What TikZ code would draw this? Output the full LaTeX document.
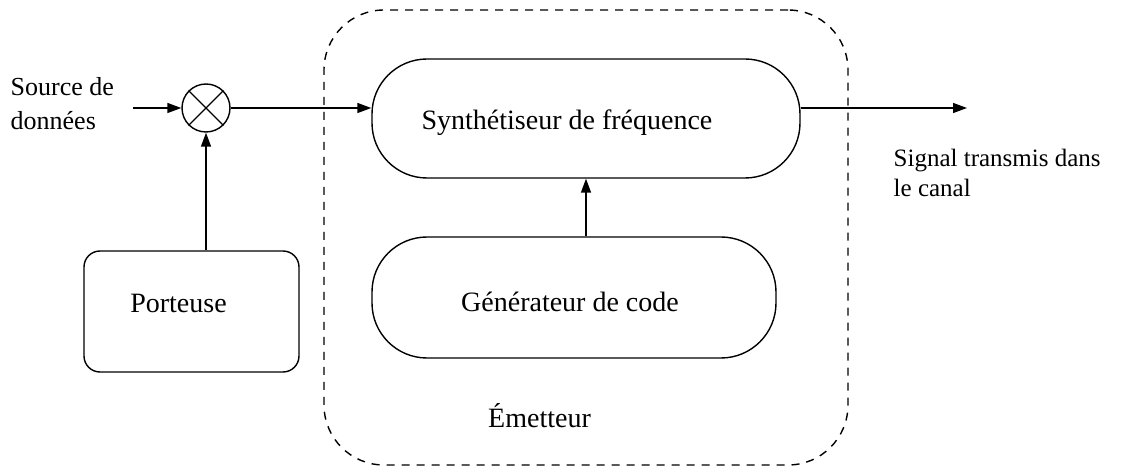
\documentclass[tikz,border=0pt]{standalone}
\usepackage{fontspec}
\setmainfont{Liberation Serif}
\usetikzlibrary{arrows.meta}

\begin{document}
\begin{tikzpicture}[x=1pt, y=-1pt,
  line width=1.4pt,
  arr/.style={-{Triangle[length=14pt,width=10pt]}},
  blockbox/.style={draw, rectangle, inner sep=0pt},
  lbl/.style={inner sep=0pt, font=\fontsize{28}{34}\selectfont},
  sidelbl/.style={inner sep=0pt, align=left, font=\fontsize{26}{34}\selectfont},
  enclosure/.style={draw, rectangle, dash pattern=on 8pt off 7pt, rounded corners=60pt, inner sep=0pt}]
  \useasboundingbox (0,0) rectangle (1125,470);

  % transmitter enclosure
  \node[enclosure, minimum width=524pt, minimum height=455pt] (tx) at (586,237.5) {};

  % blocks
  \node[blockbox, rounded corners=55pt, minimum width=428pt, minimum height=119pt] (synth) at (586,118.5) {};
  \node[blockbox, rounded corners=55pt, minimum width=404pt, minimum height=121pt] (gen) at (574,297.5) {};
  \node[blockbox, rounded corners=16pt, minimum width=215pt, minimum height=121pt] (port) at (191.5,311.5) {};

  % mixer
  \node[draw, circle, minimum size=48pt, inner sep=0pt] (mix) at (206,108) {};
  \draw (mix.45) -- (mix.225) (mix.135) -- (mix.-45);

  % block labels
  \node[lbl, anchor=base] (synthtxt) at (567,130) {Synthétiseur de fréquence};
  \node[lbl, anchor=base] (gentxt) at (570,312) {Générateur de code};
  \node[lbl, anchor=base] (porttxt) at (178.5,313) {Porteuse};
  \node[lbl, anchor=base] (txtxt) at (539.5,427) {Émetteur};

  % side labels
  \node[sidelbl, anchor=north west] (srctxt) at (10,77) {Source de\\données};
  \node[sidelbl, anchor=north west, font=\fontsize{25}{30}\selectfont] (outtxt) at (893,148) {Signal transmis dans\\le canal};

  % connectors
  \coordinate (src) at (133,108);
  \coordinate (out) at (967,108);
  \draw[arr] (src) -- (mix.west);
  \draw[arr] (mix.east) -- (synth.west |- mix);
  \draw[arr] (synth.east |- mix) -- (out);
  \draw[arr] (mix.south |- port.north) -- (mix.south);
  \draw[arr] (synth.south |- gen.north) -- (synth.south);
\end{tikzpicture}
\end{document}
